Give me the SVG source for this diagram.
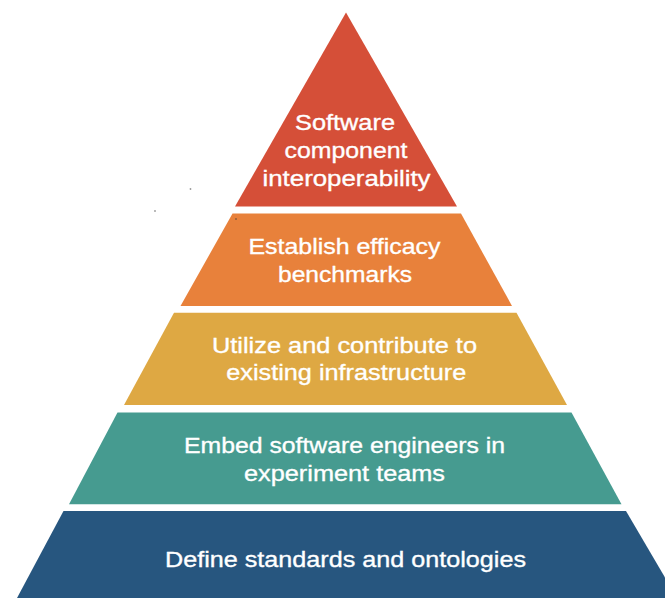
<svg xmlns="http://www.w3.org/2000/svg" width="665" height="598" viewBox="0 0 665 598">
  <style>
    .lbl { font-family: "Liberation Sans", Arial, Helvetica, sans-serif; font-size: 22.5px; fill: #ffffff; stroke: #ffffff; stroke-width: 0.35px; text-anchor: middle; }
    .t1 { fill: #D54F38; }
    .t2 { fill: #E8813B; }
    .t3 { fill: #DEA843; }
    .t4 { fill: #469B90; }
    .t5 { fill: #27567F; }
    .speck { fill: #9a9a9a; }
  </style>
  <rect width="665" height="598" fill="#ffffff"/>
  <g id="tier1">
    <polygon class="t1" points="346,12.5 457,206.5 235,206.5"/>
    <text class="lbl" x="345" y="130" textLength="100" lengthAdjust="spacingAndGlyphs">Software</text>
    <text class="lbl" x="346" y="158.3" textLength="123" lengthAdjust="spacingAndGlyphs">component</text>
    <text class="lbl" x="346.5" y="186.3" textLength="168" lengthAdjust="spacingAndGlyphs">interoperability</text>
  </g>
  <g id="tier2">
    <polygon class="t2" points="232.5,213.5 461,213.5 512,306 180.5,306"/>
    <text class="lbl" x="344.5" y="254" textLength="192" lengthAdjust="spacingAndGlyphs">Establish efficacy</text>
    <text class="lbl" x="345" y="282" textLength="134" lengthAdjust="spacingAndGlyphs">benchmarks</text>
  </g>
  <g id="tier3">
    <polygon class="t3" points="174,312.7 516.5,312.7 567,405 124,405"/>
    <text class="lbl" x="344.5" y="353.3" textLength="265" lengthAdjust="spacingAndGlyphs">Utilize and contribute to</text>
    <text class="lbl" x="346.3" y="380" textLength="240" lengthAdjust="spacingAndGlyphs">existing infrastructure</text>
  </g>
  <g id="tier4">
    <polygon class="t4" points="117.5,412.5 571.5,412.5 621.5,504.3 69,504.3"/>
    <text class="lbl" x="344.5" y="453.3" textLength="321" lengthAdjust="spacingAndGlyphs">Embed software engineers in</text>
    <text class="lbl" x="344.5" y="481" textLength="201" lengthAdjust="spacingAndGlyphs">experiment teams</text>
  </g>
  <g id="tier5">
    <polygon class="t5" points="63.5,511 626,511 677,598 17,598"/>
    <text class="lbl" x="345.5" y="566.7" textLength="361" lengthAdjust="spacingAndGlyphs">Define standards and ontologies</text>
  </g>
  <g id="specks">
    <circle class="speck" cx="190.5" cy="189" r="0.9"/>
    <circle class="speck" cx="155" cy="211" r="0.9"/>
    <circle cx="236" cy="219" r="0.9" fill="#8a5a3a"/>
  </g>
</svg>
